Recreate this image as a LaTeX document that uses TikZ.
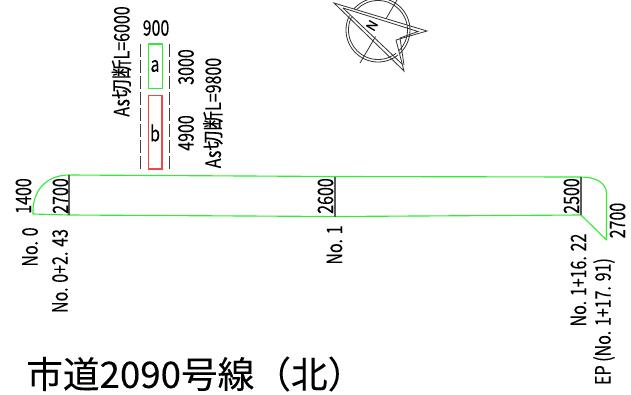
\documentclass[tikz,border=0pt]{standalone}
\usepackage{fontspec}
\newfontfamily\jp[FakeStretch=0.75,FakeBold=0.08]{Noto Sans CJK JP}
\newfontfamily\jpk[FakeStretch=0.93,FakeBold=0.08]{Noto Sans CJK JP}
\newfontfamily\jpt[FakeBold=0.1]{Noto Sans CJK JP}
\newcommand{\kj}[1]{{\jpk #1}}
\definecolor{lgreen}{RGB}{50,235,50}
\definecolor{lred}{RGB}{240,70,70}
\tikzset{
  x=0.75pt,y=-0.75pt,
  dimv/.style={rotate=90,inner sep=0pt,font=\jp\fontsize{16}{16}\selectfont,text=black},
  dimh/.style={inner sep=0pt,font=\jp\fontsize{16}{16}\selectfont,text=black},
  road/.style={draw=lgreen,line width=0.85pt,line join=round},
  sect/.style={draw=black!65,line width=0.85pt},
  guide/.style={draw=black!75,line width=0.75pt,dash pattern=on 9.5pt off 2.5pt},
  comp/.style={draw=black!80,line width=0.6pt,line join=miter}
}
\begin{document}
\begin{tikzpicture}
\useasboundingbox (0,0) rectangle (631,394);
% road outline
\draw[road] (33,214) .. controls (32,190) and (47,175) .. (69,175) -- (335,176.5) -- (581,177) .. controls (596,177) and (606,183) .. (606.5,193) -- (606.5,240) -- (581,215) -- (335,216.5) -- (69,215) -- cycle;
\draw[sect] (69,175) -- (69,215);
\draw[sect] (335,176.5) -- (335,216.5);
\draw[sect] (581,177) -- (581,215);
% boxes
\draw[road] (148.5,44) rectangle (162.5,88.5);
\draw[draw=lred,line width=0.85pt] (148.5,95.5) rectangle (162,169);
\draw[guide] (140.5,44) -- (140.5,170);
\draw[guide] (169.5,44) -- (169.5,170);
\node[dimh] (lab900) at (156,28) {900};
\node[dimh] (laba) at (155,66) {a};
\node[dimh] (labb) at (155,133) {b};
\node[dimv] (as1) at (121.5,61.5) {As\kj{切断}L=6000};
\node[dimv] (as2) at (213,113) {As\kj{切断}L=9800};
\node[dimv] (d3000) at (186,67) {3000};
\node[dimv] (d4900) at (186,133) {4900};
% compass
\draw[comp] (378,30) circle (32);
\draw[comp] (378,30) circle (29.5);
\draw[comp] (360,63) -- (397,0);
\path[fill=white] (334,3) -- (407,25) -- (396,40) -- (401,57) -- cycle;
\draw[comp] (334,3) -- (427,31) -- (396,40) -- (404,71) -- cycle;
\draw[comp] (343,8) -- (418,31.5) -- (400,38) -- (404,65);
\draw[comp] (343,8) -- (402,64);
\node[dimh,rotate=60,font=\jpt\fontsize{10}{10}\selectfont] (north) at (372,25.5) {N};
% section labels
\node[dimv] (w1400) at (23.5,196) {1400};
\node[dimv] (w2700a) at (60.5,196) {2700};
\node[dimv] (w2600) at (325.5,196) {2600};
\node[dimv] (w2500) at (571.5,196) {2500};
\node[dimv] (w2700b) at (617.5,220.5) {2700};
\node[dimv] (n0) at (30,247) {No. 0};
\node[dimv] (n0b) at (60,271) {No. 0+2. 43};
\node[dimv] (n1) at (334.5,245) {No. 1};
\node[dimv] (n1b) at (578.5,280) {No. 1+16. 22};
\node[dimv] (ep) at (604,321.5) {EP\,(No. 1+17. 91)};
\node[inner sep=0pt,anchor=west,font=\jpt\fontsize{27.5}{27.5}\selectfont,text=black] (title) at (26,374) {市道2090号線（北）};
\end{tikzpicture}
\end{document}
